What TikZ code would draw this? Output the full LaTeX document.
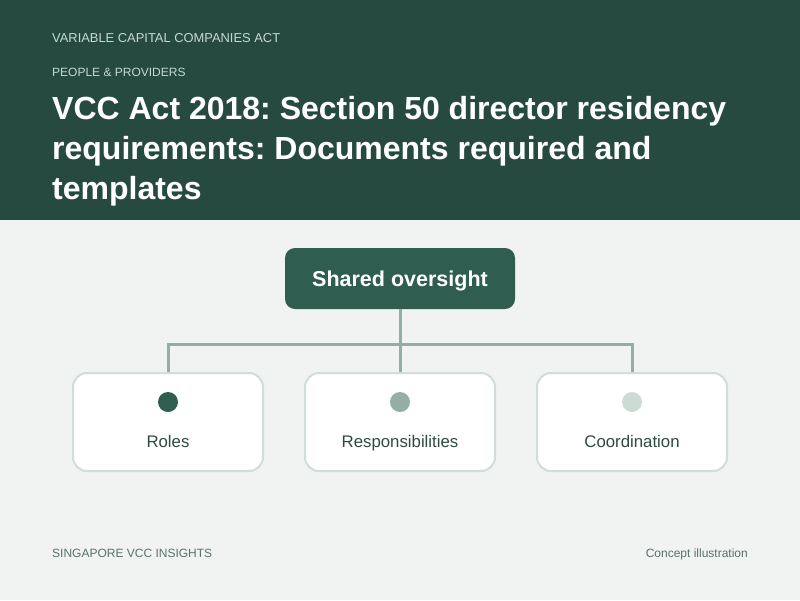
\documentclass[tikz,border=0pt]{standalone}
\usepackage{fontspec}
\setmainfont{Liberation Sans}
\frenchspacing
\definecolor{hdr}{HTML}{264A40}
\definecolor{bg}{HTML}{F0F3F2}
\definecolor{kicker}{HTML}{C5D9D0}
\definecolor{rootc}{HTML}{2F5E50}
\definecolor{linec}{HTML}{93AFA3}
\definecolor{cardb}{HTML}{D0DDD8}
\definecolor{dotc}{HTML}{CCDCD4}
\definecolor{labc}{HTML}{2F4A42}
\definecolor{footc}{HTML}{5A7268}
\tikzset{
  root/.style={draw=none, fill=rootc, rounded corners=10pt, minimum width=230pt, minimum height=61pt},
  card/.style={draw=cardb, line width=2pt, fill=white, rounded corners=14pt, minimum width=190pt, minimum height=98pt},
  conn/.style={draw=linec, line width=3pt},
  dot/.style={circle, minimum size=20pt, inner sep=0pt, draw=none},
  lab/.style={text=labc, font=\fontsize{16.8}{19}\selectfont},
  kick/.style={anchor=west, text=kicker, inner sep=0pt},
  foot/.style={text=footc, font=\fontsize{12}{14}\selectfont, inner sep=0pt}
}
\begin{document}
\begin{tikzpicture}[x=1pt,y=-1pt]
\useasboundingbox (0,0) rectangle (800,600);
\fill[bg] (0,0) rectangle (800,600);
\fill[hdr] (0,0) rectangle (800,220);
\node[kick, font=\fontsize{12.9}{16}\selectfont] (k1) at (52,38.5) {VARIABLE CAPITAL COMPANIES ACT};
\node[kick, font=\fontsize{12}{14}\selectfont] (k2) at (52,72.5) {PEOPLE \& PROVIDERS};
\node[anchor=base west, inner sep=0pt, text=white, align=left, font=\fontsize{32}{40}\selectfont\bfseries] (title) at (52,199) {VCC Act 2018: Section 50 director residency\\requirements: Documents required and\\templates};
\node[root] (r) at (400,278.5) {};
\node[text=white, font=\fontsize{21.5}{24}\selectfont\bfseries, anchor=base] (rt) at (400,286.5) {Shared oversight};
\node[card] (c1) at (168,422) {};
\node[card] (c2) at (400,422) {};
\node[card] (c3) at (632,422) {};
\coordinate (j1) at (168,344);
\coordinate (j3) at (632,344);
\draw[conn] (r.south) -- (c2.north);
\draw[conn] (c1.north) -- (j1) -- (j3) -- (c3.north);
\node[dot, fill=rootc] (d1) at (168,402) {};
\node[dot, fill=linec] (d2) at (400,402) {};
\node[dot, fill=dotc] (d3) at (632,402) {};
\node[lab, anchor=base] (l1) at (168,447) {Roles};
\node[lab, anchor=base] (l2) at (400,447) {Responsibilities};
\node[lab, anchor=base] (l3) at (632,447) {Coordination};
\node[foot, anchor=base west] (f1) at (52,557.5) {SINGAPORE VCC INSIGHTS};
\node[foot, anchor=base east] (f2) at (748,557.5) {Concept illustration};
\end{tikzpicture}
\end{document}
